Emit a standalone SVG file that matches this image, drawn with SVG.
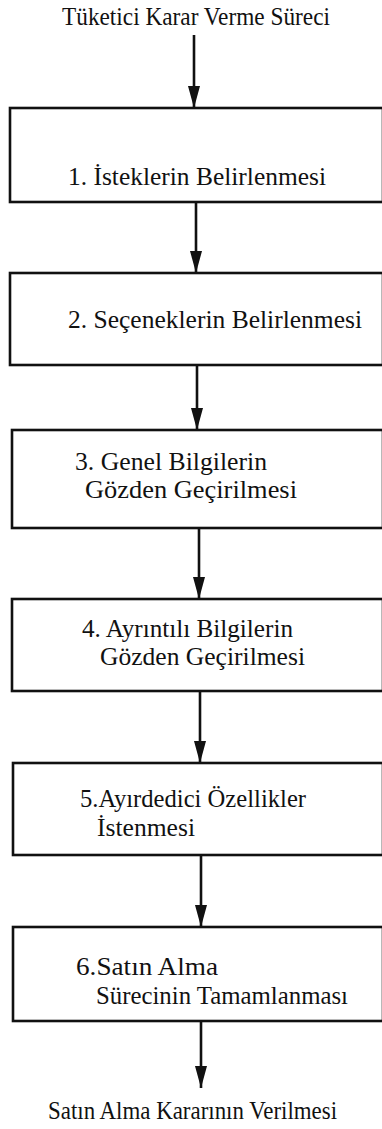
<svg xmlns="http://www.w3.org/2000/svg" width="382" height="1129" viewBox="0 0 382 1129">
<defs>
<style>
.box{fill:#fff;stroke:#111;stroke-width:2.6}
.t{font-family:"Liberation Serif","Times New Roman",serif;font-size:26px;fill:#111}
.c{stroke:#111;stroke-width:2.6;fill:none}
</style>
<marker id="arr" markerWidth="22" markerHeight="12" refX="22" refY="6" orient="auto" markerUnits="userSpaceOnUse" viewBox="0 0 22 12">
<path d="M0,0 L22,6 L0,12 Z" fill="#111"/>
</marker>
</defs>
<rect width="382" height="1129" fill="#fff"/>
<text class="t" x="62" y="25" textLength="268" lengthAdjust="spacingAndGlyphs">Tüketici Karar Verme Süreci</text>
<g id="connectors">
<line class="c" x1="194" y1="35" x2="194" y2="108" marker-end="url(#arr)"/>
<line class="c" x1="196" y1="202" x2="196" y2="273" marker-end="url(#arr)"/>
<line class="c" x1="197" y1="365" x2="197" y2="430" marker-end="url(#arr)"/>
<line class="c" x1="199" y1="528" x2="199" y2="599" marker-end="url(#arr)"/>
<line class="c" x1="200" y1="691" x2="200" y2="763" marker-end="url(#arr)"/>
<line class="c" x1="201" y1="855" x2="201" y2="927" marker-end="url(#arr)"/>
<line class="c" x1="201" y1="1021" x2="201" y2="1088" marker-end="url(#arr)"/>
</g>
<g id="n1"><rect class="box" x="10" y="108" width="373" height="94"/>
<text class="t" x="68" y="185" textLength="258" lengthAdjust="spacingAndGlyphs">1. İsteklerin Belirlenmesi</text></g>
<g id="n2"><rect class="box" x="10" y="273" width="373" height="92"/>
<text class="t" x="68" y="328" textLength="294" lengthAdjust="spacingAndGlyphs">2. Seçeneklerin Belirlenmesi</text></g>
<g id="n3"><rect class="box" x="12" y="430" width="371" height="98"/>
<text class="t" x="75" y="470" textLength="192" lengthAdjust="spacingAndGlyphs">3. Genel Bilgilerin</text>
<text class="t" x="85" y="498" textLength="212" lengthAdjust="spacingAndGlyphs">Gözden Geçirilmesi</text></g>
<g id="n4"><rect class="box" x="12" y="599" width="371" height="92"/>
<text class="t" x="82" y="637" textLength="211" lengthAdjust="spacingAndGlyphs">4. Ayrıntılı Bilgilerin</text>
<text class="t" x="100" y="665" textLength="205" lengthAdjust="spacingAndGlyphs">Gözden Geçirilmesi</text></g>
<g id="n5"><rect class="box" x="13" y="763" width="370" height="92"/>
<text class="t" x="80" y="807" textLength="226" lengthAdjust="spacingAndGlyphs">5.Ayırdedici Özellikler</text>
<text class="t" x="97" y="836" textLength="98" lengthAdjust="spacingAndGlyphs">İstenmesi</text></g>
<g id="n6"><rect class="box" x="13" y="927" width="370" height="94"/>
<text class="t" x="76" y="975" textLength="142" lengthAdjust="spacingAndGlyphs">6.Satın Alma</text>
<text class="t" x="96" y="1004" textLength="252" lengthAdjust="spacingAndGlyphs">Sürecinin Tamamlanması</text></g>
<text class="t" x="48" y="1119" textLength="289" lengthAdjust="spacingAndGlyphs">Satın Alma Kararının Verilmesi</text>
</svg>
